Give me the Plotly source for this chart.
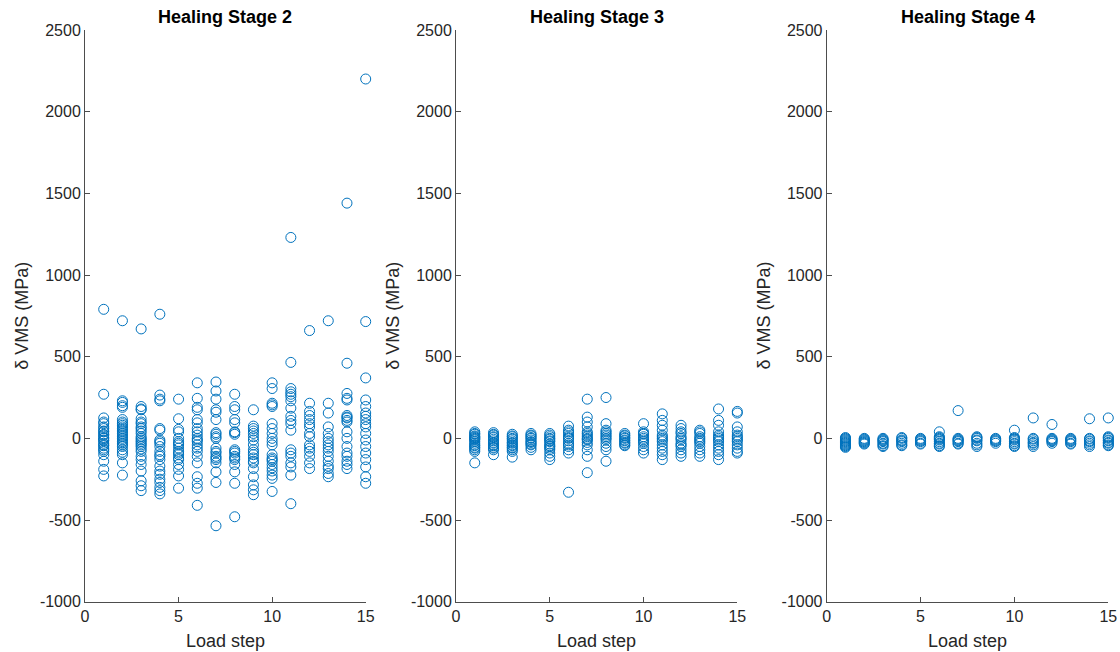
import plotly.graph_objects as go

load_steps = list(range(1, 16))

stage2_values = [
    [790, 270, 125, 100, 90, 70, 60, 45, 40, 25, 20, 5, 0, -10, -15, -30, -40, -45, -60, -70, -80, -100, -140, -190, -230],
    [720, 230, 220, 200, 190, 115, 100, 90, 80, 70, 60, 50, 40, 30, 20, 10, 0, -10, -20, -30, -40, -50, -70, -85, -100, -150, -225],
    [670, 195, 180, 175, 120, 100, 90, 70, 60, 45, 30, 10, 0, -10, -20, -30, -40, -50, -65, -80, -110, -130, -160, -200, -260, -290, -320],
    [760, 265, 240, 230, 60, 50, -10, -20, -30, -50, -80, -100, -110, -130, -170, -200, -220, -250, -270, -300, -320, -340],
    [240, 120, 55, 40, 0, -20, -30, -40, -60, -80, -90, -100, -120, -130, -160, -190, -230, -305],
    [340, 245, 190, 175, 115, 95, 60, 40, 20, 0, -10, -20, -40, -60, -80, -110, -150, -235, -275, -305, -410],
    [345, 290, 240, 175, 160, 115, 35, 25, 10, 0, -60, -80, -90, -110, -120, -130, -150, -205, -270, -535],
    [270, 195, 175, 115, 95, 40, 35, 25, -70, -80, -90, -110, -120, -130, -160, -205, -275, -480],
    [175, 75, 60, 45, 30, 10, -10, -40, -70, -85, -100, -120, -140, -150, -185, -235, -285, -315, -345],
    [340, 305, 215, 205, 195, 90, 60, 30, 0, -20, -40, -100, -120, -130, -140, -160, -180, -200, -225, -245, -325],
    [1230, 465, 305, 285, 270, 255, 230, 185, 135, 110, 90, 50, -70, -90, -110, -150, -175, -225, -400],
    [660, 215, 165, 140, 115, 90, 70, 30, 10, -40, -60, -80, -110, -150, -185],
    [720, 215, 155, 70, 30, 0, -20, -40, -60, -80, -110, -140, -170, -185, -215, -235],
    [1440, 460, 275, 245, 235, 140, 130, 125, 110, 100, 40, 0, -50, -90, -110, -140, -160, -185],
    [2200, 715, 370, 235, 195, 155, 135, 115, 90, 70, 30, -10, -50, -90, -130, -175, -235, -275],
]

stage3_values = [
    [40, 30, 25, 15, 10, 5, 0, -5, -10, -20, -30, -40, -45, -55, -60, -70, -80, -150],
    [35, 25, 20, 10, 5, -5, -15, -25, -30, -40, -45, -55, -60, -70, -100],
    [25, 15, 10, 0, -5, -15, -25, -30, -40, -45, -55, -60, -70, -80, -115],
    [30, 20, 15, 5, 0, -10, -20, -25, -35, -40, -55, -70],
    [30, 20, 10, 0, -5, -15, -20, -35, -45, -50, -60, -70, -90, -110, -130],
    [75, 50, 40, 30, 15, 5, 0, -15, -30, -40, -50, -70, -90, -330],
    [240, 130, 100, 70, 40, 30, 20, 10, 0, -5, -10, -25, -40, -70, -110, -210],
    [250, 90, 50, 40, 30, 20, 10, 0, -10, -30, -50, -70, -140],
    [30, 20, 15, 5, 0, -10, -15, -25, -30, -40, -45],
    [90, 40, 30, 25, 10, 0, -10, -20, -30, -50, -70, -90],
    [150, 110, 80, 50, 20, 10, 0, -10, -20, -40, -60, -80, -100, -130],
    [80, 60, 40, 30, 10, 0, -10, -30, -40, -50, -70, -90, -110],
    [50, 40, 30, 10, 0, -10, -20, -30, -50, -70, -90, -110],
    [180, 110, 80, 40, 20, 10, 0, -10, -20, -40, -60, -80, -100, -130],
    [165, 155, 70, 40, 20, 10, 0, -10, -20, -40, -60, -80, -90],
]

stage4_values = [
    [5, 0, -5, -10, -15, -20, -25, -30, -35, -40, -45, -50, -55],
    [0, -5, -10, -15, -20, -25, -30, -35],
    [0, -5, -10, -15, -20, -30, -35, -45, -50],
    [5, 0, -10, -15, -20, -30, -40, -45],
    [0, -5, -10, -15, -20, -30, -35],
    [40, 10, 5, 0, -5, -10, -20, -30, -35, -45, -50],
    [170, 0, -5, -10, -15, -20, -30, -35],
    [10, 5, 0, -10, -15, -30, -40, -50],
    [0, -5, -10, -15, -20, -30],
    [50, 5, 0, -5, -10, -20, -30, -35, -45, -50],
    [125, 0, -5, -15, -25, -30, -40, -50],
    [85, 0, -5, -10, -15, -20, -30],
    [0, -5, -10, -15, -20, -30, -35],
    [120, 0, -5, -15, -20, -30, -40, -50],
    [125, 10, 5, 0, -10, -15, -25, -30, -40, -45],
]

titles = ["Healing Stage 2", "Healing Stage 3", "Healing Stage 4"]
x_ticks = [0, 5, 10, 15]
x_tick_labels = ["0", "5", "10", "15"]
y_ticks = [-1000, -500, 0, 500, 1000, 1500, 2000, 2500]
y_tick_labels = ["-1000", "-500", "0", "500", "1000", "1500", "2000", "2500"]

W, H = 1120, 652
x_domains_px = [(85, 365.7), (456, 737.3), (826.7, 1108.3)]
y_domain_px = (30, 601.7)
color = "#0072BD"
axis_color = "#4d4d4d"
font_family = "Liberation Sans, Arial, Helvetica, sans-serif"

fig = go.Figure()
stages = [stage2_values, stage3_values, stage4_values]
for i, stage in enumerate(stages):
    xs, ys = [], []
    for step, vals in zip(load_steps, stage):
        xs.extend([step] * len(vals))
        ys.extend(vals)
    suffix = "" if i == 0 else str(i + 1)
    fig.add_trace(go.Scatter(
        x=xs, y=ys, mode="markers",
        marker=dict(symbol="circle-open", size=10, color=color,
                    line=dict(width=1, color=color)),
        xaxis="x" + suffix, yaxis="y" + suffix, showlegend=False,
        cliponaxis=False,
    ))

layout = dict(
    width=W, height=H,
    margin=dict(l=0, r=0, t=0, b=0, autoexpand=False),
    plot_bgcolor="white", paper_bgcolor="white",
    font=dict(family=font_family, size=16, color="#262626"),
    annotations=[],
)

yd = [1 - y_domain_px[1] / H, 1 - y_domain_px[0] / H]
for i in range(3):
    suffix = "" if i == 0 else str(i + 1)
    x0, x1 = x_domains_px[i]
    common = dict(
        showgrid=False, zeroline=False, showline=True, linecolor=axis_color,
        linewidth=1, ticks="inside", ticklen=5, tickcolor=axis_color, tickwidth=1,
        tickfont=dict(size=16, color="#262626", family=font_family),
        mirror=False, automargin=False,
    )
    layout["xaxis" + suffix] = dict(
        domain=[x0 / W, x1 / W], range=[0, 15], tickvals=x_ticks, ticktext=x_tick_labels,
        anchor="y" + suffix, **common)
    layout["yaxis" + suffix] = dict(
        domain=yd, range=[-1000, 2500], tickvals=y_ticks, ticktext=y_tick_labels,
        anchor="x" + suffix, **common)
    cx = (x0 + x1) / 2 / W
    layout["annotations"].append(dict(
        text="<b>" + titles[i] + "</b>", x=cx, y=1 - 17 / H, xref="paper", yref="paper",
        showarrow=False, font=dict(size=18, color="black", family=font_family),
        xanchor="center", yanchor="middle"))
    layout["annotations"].append(dict(
        text="Load step", x=cx, y=1 - 641 / H, xref="paper", yref="paper",
        showarrow=False, font=dict(size=18, color="#262626", family=font_family),
        xanchor="center", yanchor="middle"))
    layout["annotations"].append(dict(
        text="δ VMS (MPa)", x=(x0 - 63) / W, y=1 - (sum(y_domain_px) / 2) / H,
        xref="paper", yref="paper", textangle=-90,
        showarrow=False, font=dict(size=18, color="#262626", family=font_family),
        xanchor="center", yanchor="middle"))

fig.update_layout(**layout)
fig.write_html("out.html", config={"displayModeBar": False},
               post_script="document.body.style.margin='0px';")
